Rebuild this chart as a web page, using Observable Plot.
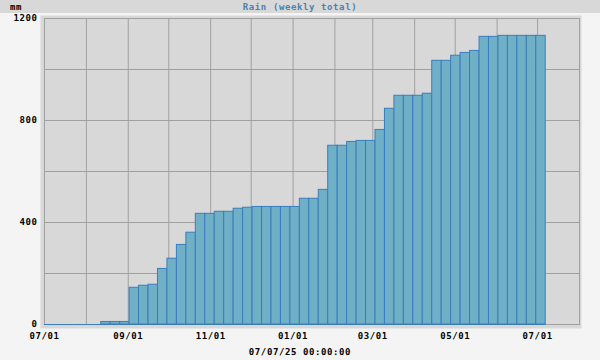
<!DOCTYPE html>
<html>
<head>
<meta charset="utf-8">
<script src="https://cdn.jsdelivr.net/npm/d3@7"></script>
<script src="https://cdn.jsdelivr.net/npm/@observablehq/plot@0.6"></script>
<style>
  html, body { margin: 0; padding: 0; background: #f4f4f4; }
  #wrap { position: relative; width: 600px; height: 360px; background: #f4f4f4; overflow: hidden;
          font-family: "DejaVu Sans Mono", monospace; font-weight: bold; font-size: 9px; letter-spacing: 0.6px; }
  #band { position: absolute; left: 0; top: 0; width: 600px; height: 13px; background: #d8d8d8; }
  #unit { position: absolute; left: 10px; top: 1px; line-height: 12px; color: #000; }
  #title { position: absolute; left: 0; width: 600px; top: 1px; line-height: 12px; text-align: center; color: #4a82b4; }
  #chart { position: absolute; left: 0; top: 13px; }
  #caption { position: absolute; left: 0; width: 600px; top: 346px; line-height: 12px; text-align: center; color: #000; }
  svg text { letter-spacing: 0.6px; }
</style>
</head>
<body>
<div id="wrap">
  <div id="band"><span id="unit">mm</span><div id="title">Rain (weekly total)</div></div>
  <div id="chart"></div>
  <div id="caption">07/07/25 00:00:00</div>
</div>
<script>
// Week start dates (each bar spans one week)
const weekStarts = [
  "2024-07-01","2024-07-08","2024-07-15","2024-07-22","2024-07-29","2024-08-05","2024-08-12",
  "2024-08-19","2024-08-26","2024-09-02","2024-09-09","2024-09-16","2024-09-23","2024-09-30",
  "2024-10-07","2024-10-14","2024-10-21","2024-10-28","2024-11-04","2024-11-11","2024-11-18",
  "2024-11-25","2024-12-02","2024-12-09","2024-12-16","2024-12-23","2024-12-30","2025-01-06",
  "2025-01-13","2025-01-20","2025-01-27","2025-02-03","2025-02-10","2025-02-17","2025-02-24",
  "2025-03-03","2025-03-10","2025-03-17","2025-03-24","2025-03-31","2025-04-07","2025-04-14",
  "2025-04-21","2025-04-28","2025-05-05","2025-05-12","2025-05-19","2025-05-26","2025-06-02",
  "2025-06-09","2025-06-16","2025-06-23","2025-06-30"
];
// Rain values (mm)
const rainValues = [
  0, 0, 0, 0, 0, 0, 10,
  10, 10, 144, 152, 156, 218, 258,
  312, 360, 434, 434, 442, 442, 454,
  458, 461, 461, 461, 461, 461, 493,
  493, 528, 701, 701, 716, 720, 720,
  763, 846, 897, 897, 897, 905, 1034,
  1034, 1054, 1065, 1073, 1128, 1128, 1132,
  1132, 1132, 1132, 1132
];
const yTicks = [0, 400, 800, 1200];
const yGrid = [0, 200, 400, 600, 800, 1000, 1200];
const xTickDates = ["2024-07-01","2024-09-01","2024-11-01","2025-01-01","2025-03-01","2025-05-01","2025-07-01"];
const xDomain = ["2024-07-01", "2025-08-01"];

const data = weekStarts.map((d, i) => {
  const start = new Date(d + "T00:00:00Z");
  return { x1: start, x2: d3.utcDay.offset(start, 7), y: rainValues[i] };
});
const dom = xDomain.map(d => new Date(d + "T00:00:00Z"));
const xGrid = d3.utcMonth.range(dom[0], d3.utcDay.offset(dom[1], 1));
const xTicks = xTickDates.map(d => new Date(d + "T00:00:00Z"));

const chart = Plot.plot({
  width: 600,
  height: 330,
  marginLeft: 44,
  marginRight: 21,
  marginTop: 5,
  marginBottom: 19,
  style: { background: "transparent", fontFamily: "DejaVu Sans Mono, monospace", fontSize: "9px", fontWeight: "bold", color: "#000" },
  x: { type: "utc", domain: dom },
  y: { domain: [0, 1200] },
  marks: [
    Plot.frame({ fill: "#d8d8d8", stroke: "none", insetLeft: -4, insetTop: -3, insetRight: -2, insetBottom: -4 }),
    Plot.gridX({ ticks: xGrid, stroke: "#a0a0a0", strokeOpacity: 1, strokeWidth: 1 }),
    Plot.gridY({ ticks: yGrid, stroke: "#a0a0a0", strokeOpacity: 1, strokeWidth: 1 }),
    Plot.frame({ stroke: "#a0a0a0", strokeWidth: 1 }),
    Plot.rectY(data, { x1: "x1", x2: "x2", y: "y", fill: "#6fb0c6", stroke: "#3a7dbd", strokeWidth: 1, inset: 0 }),
    Plot.ruleY(data, { x1: "x1", x2: "x2", y: 0, stroke: "#3a7dbd", strokeWidth: 1 }),
    Plot.axisY({ ticks: yTicks, tickFormat: d => String(d), tickSize: 0, tickPadding: 7, label: null, fill: "#000" }),
    Plot.axisX({ ticks: xTicks, tickFormat: d3.utcFormat("%m/%d"), tickSize: 0, tickPadding: 8, label: null, fill: "#000" })
  ]
});
document.getElementById("chart").appendChild(chart);
</script>
</body>
</html>
